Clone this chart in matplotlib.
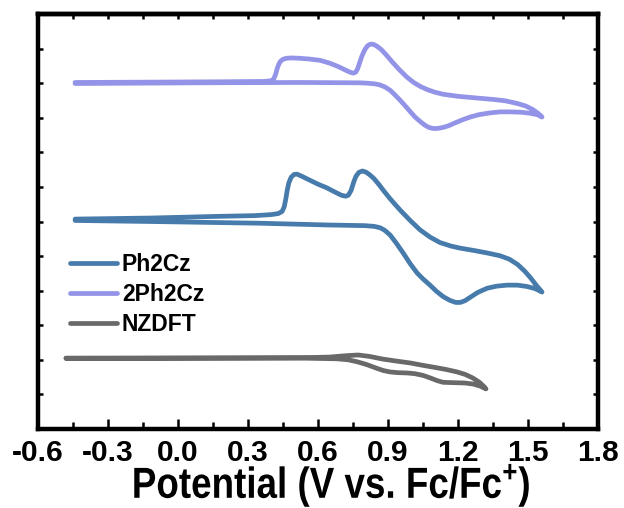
import matplotlib
matplotlib.use("Agg")
import matplotlib.pyplot as plt
from matplotlib.ticker import MultipleLocator, NullFormatter
from matplotlib.patheffects import AbstractPathEffect
from matplotlib.transforms import Affine2D

plt.rcParams['font.family'] = ['Liberation Sans', 'DejaVu Sans']
plt.rcParams['font.weight'] = 'bold'
plt.rcParams['mathtext.fontset'] = 'custom'
plt.rcParams['mathtext.rm'] = 'Liberation Sans:bold'
plt.rcParams['mathtext.bf'] = 'Liberation Sans:bold'
plt.rcParams['mathtext.default'] = 'bf'

# Cyclic voltammograms (potential in V vs. Fc/Fc+, current in offset arbitrary units)
ph2cz_fwd_v = [-0.441, -0.120, 0.180, 0.330, 0.400, 0.430, 0.446, 0.455, 0.462, 0.468,
               0.475, 0.485, 0.497, 0.510, 0.530, 0.560, 0.600, 0.639, 0.670, 0.700,
               0.718, 0.730, 0.742, 0.752, 0.762, 0.775, 0.790, 0.805, 0.820, 0.840,
               0.860, 0.879, 0.910, 0.952, 0.995, 1.037, 1.080, 1.123, 1.170, 1.209,
               1.270, 1.325, 1.380, 1.420, 1.455, 1.485, 1.510, 1.535, 1.560]
ph2cz_fwd_i = [6.07, 6.10, 6.15, 6.17, 6.20, 6.23, 6.29, 6.42, 6.65, 6.90,
               7.12, 7.28, 7.36, 7.37, 7.31, 7.21, 7.08, 6.97, 6.86, 6.76,
               6.73, 6.76, 6.90, 7.12, 7.30, 7.42, 7.46, 7.43, 7.36, 7.24,
               7.08, 6.91, 6.65, 6.33, 6.03, 5.76, 5.55, 5.39, 5.29, 5.23,
               5.16, 5.09, 5.01, 4.91, 4.76, 4.57, 4.38, 4.16, 3.96]
ph2cz_rev_v = [1.560, 1.530, 1.496, 1.455, 1.410, 1.365, 1.325, 1.285, 1.255, 1.230,
               1.210, 1.190, 1.165, 1.136, 1.108, 1.080, 1.050, 1.025, 0.995, 0.965,
               0.935, 0.909, 0.885, 0.866, 0.840, 0.800, 0.639, 0.352, -0.120, -0.441]
ph2cz_rev_i = [3.96, 4.06, 4.12, 4.16, 4.16, 4.13, 4.07, 3.95, 3.82, 3.71,
               3.66, 3.66, 3.72, 3.83, 3.98, 4.16, 4.34, 4.51, 4.78, 5.09,
               5.38, 5.61, 5.75, 5.82, 5.86, 5.88, 5.90, 5.95, 6.00, 6.03]

dph2cz_fwd_v = [-0.441, -0.120, 0.180, 0.370, 0.400, 0.410, 0.418, 0.425, 0.432, 0.440,
                0.450, 0.465, 0.489, 0.520, 0.560, 0.609, 0.650, 0.690, 0.720, 0.740,
                0.752, 0.762, 0.770, 0.778, 0.788, 0.800, 0.812, 0.825, 0.838, 0.850,
                0.870, 0.892, 0.920, 0.950, 0.980, 1.010, 1.040, 1.070, 1.100, 1.136,
                1.200, 1.282, 1.350, 1.402, 1.450, 1.490, 1.520, 1.545, 1.560]
dph2cz_fwd_i = [10.02, 10.03, 10.04, 10.05, 10.07, 10.12, 10.25, 10.42, 10.55, 10.64,
                10.69, 10.72, 10.73, 10.72, 10.70, 10.66, 10.58, 10.47, 10.37, 10.31,
                10.29, 10.32, 10.42, 10.58, 10.78, 10.96, 11.08, 11.13, 11.12, 11.08,
                10.98, 10.82, 10.60, 10.38, 10.18, 10.02, 9.90, 9.81, 9.74, 9.68,
                9.62, 9.57, 9.53, 9.49, 9.42, 9.34, 9.24, 9.12, 9.02]
dph2cz_rev_v = [1.560, 1.540, 1.509, 1.470, 1.423, 1.380, 1.337, 1.290, 1.252, 1.215,
                1.187, 1.160, 1.136, 1.112, 1.093, 1.075, 1.059, 1.040, 1.016, 0.995,
                0.973, 0.950, 0.930, 0.910, 0.887, 0.865, 0.844, 0.810, 0.780, 0.523,
                0.094, -0.441]
dph2cz_rev_i = [9.02, 9.09, 9.13, 9.16, 9.17, 9.17, 9.14, 9.09, 9.02, 8.93,
                8.85, 8.77, 8.72, 8.69, 8.69, 8.72, 8.78, 8.88, 9.02, 9.18,
                9.35, 9.52, 9.66, 9.79, 9.89, 9.95, 9.98, 10.00, 10.01, 10.02,
                10.01, 9.99]

nzdft_fwd_v = [-0.480, 0.523, 0.650, 0.720, 0.772, 0.820, 0.879, 0.940, 0.995, 1.050,
               1.093, 1.150, 1.196, 1.230, 1.262, 1.290, 1.308, 1.320]
nzdft_fwd_i = [2.05, 2.06, 2.08, 2.12, 2.14, 2.10, 2.02, 1.96, 1.91, 1.84,
               1.79, 1.72, 1.65, 1.58, 1.48, 1.36, 1.25, 1.16]
nzdft_rev_v = [1.320, 1.295, 1.265, 1.230, 1.180, 1.136, 1.110, 1.080, 1.050, 1.015,
               0.982, 0.940, 0.909, 0.880, 0.850, 0.810, 0.770, 0.730, 0.680, 0.523,
               -0.480]
nzdft_rev_i = [1.16, 1.24, 1.30, 1.33, 1.34, 1.35, 1.40, 1.48, 1.55, 1.60,
               1.62, 1.63, 1.65, 1.69, 1.76, 1.86, 1.94, 2.00, 2.03, 2.05,
               2.04]

labels = ['Ph2Cz', '2Ph2Cz', 'NZDFT']
colors = ['#467BAC', '#9393E8', '#696969']
xtick_vals = [-0.6, -0.3, 0.0, 0.3, 0.6, 0.9, 1.2, 1.5, 1.8]
xtick_labels = ['-0.6', '-0.3', '0.0', '0.3', '0.6', '0.9', '1.2', '1.5', '1.8']


class Stretch(AbstractPathEffect):
    """Scale a rendered text path about its own baseline centre."""

    def __init__(self, sx=1.0, sy=1.0):
        super().__init__()
        self.sx, self.sy = sx, sy

    def draw_path(self, renderer, gc, tpath, affine, rgbFace=None):
        verts = affine.transform(tpath.vertices)
        cx = 0.5 * (verts[:, 0].min() + verts[:, 0].max())
        cy = verts[:, 1].min()
        t = affine + Affine2D().translate(-cx, -cy).scale(self.sx, self.sy).translate(cx, cy)
        renderer.draw_path(gc, tpath, t, rgbFace)


fig = plt.figure(figsize=(6.24, 5.08), dpi=100)
ax = fig.add_axes([38/624, 1-429/508, 560/624, 415/508])

series = [
    (ph2cz_fwd_v + ph2cz_rev_v[1:], ph2cz_fwd_i + ph2cz_rev_i[1:]),
    (dph2cz_fwd_v + dph2cz_rev_v[1:], dph2cz_fwd_i + dph2cz_rev_i[1:]),
    (nzdft_fwd_v + nzdft_rev_v[1:], nzdft_fwd_i + nzdft_rev_i[1:]),
]
for (v, i), lab, c in zip(series, labels, colors):
    ax.plot(v, i, color=c, lw=3.4, label=lab, solid_joinstyle='round',
            solid_capstyle='round')

ax.set_xlim(-0.6, 1.8)
ax.set_ylim(0, 12)
ax.set_xticks(xtick_vals)
ax.set_xticklabels(xtick_labels)
ax.xaxis.set_minor_locator(MultipleLocator(0.15))
ax.yaxis.set_major_locator(MultipleLocator(1))
ax.yaxis.set_major_formatter(NullFormatter())

for s in ax.spines.values():
    s.set_linewidth(3.2)

ax.tick_params(axis='x', which='major', direction='in', length=7, width=1.8,
               labelsize=21.5, pad=7, top=False)
ax.tick_params(axis='x', which='minor', direction='in', length=5, width=1.8, top=False)
ax.tick_params(axis='y', which='major', direction='in', length=3.5, width=1.8,
               left=True, right=True)
for t in ax.get_xticklabels():
    t.set_fontweight('bold')

top = ax.secondary_xaxis('top')
top.xaxis.set_major_locator(MultipleLocator(0.15))
top.tick_params(direction='in', length=3.5, width=1.8, labeltop=False)
top.spines['top'].set_linewidth(3.2)

ax.set_xlabel('Potential (V vs. Fc/Fc$^{+}$)', fontsize=26.5, fontweight='bold', labelpad=1)
ax.xaxis.label.set_x((331 - 38) / 560)
ax.xaxis.label.set_path_effects([Stretch(1.0, 1.18)])

ax.legend(loc='upper left', bbox_to_anchor=(0.057, 0.423), frameon=False,
          prop={'weight': 'bold', 'size': 16.5}, handlelength=2.05,
          handletextpad=0.22, labelspacing=0.3, borderpad=0, borderaxespad=0)

fig.savefig('out.png', dpi=100)
